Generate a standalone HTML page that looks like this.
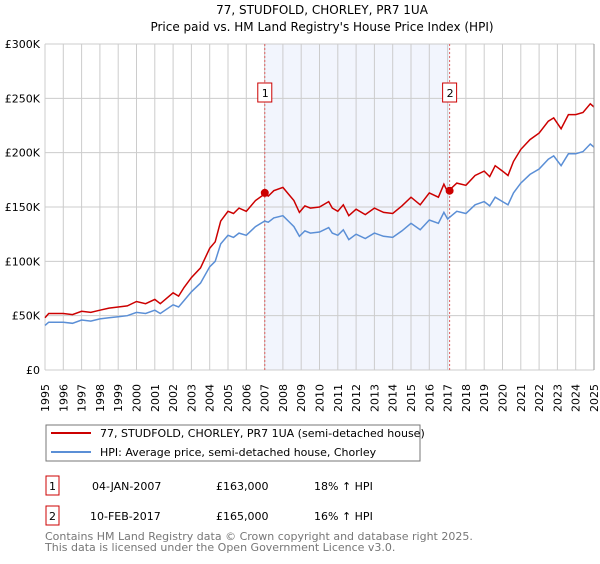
<!DOCTYPE html>
<html><head><meta charset="utf-8"><style>
body{margin:0;background:#fff;font-family:"DejaVu Sans","Liberation Sans",sans-serif;}
svg text{font-family:"DejaVu Sans","Liberation Sans",sans-serif;}
</style></head><body>
<svg id="chart" width="600" height="560" xmlns="http://www.w3.org/2000/svg">
<text x="322" y="14" text-anchor="middle" font-size="12">77, STUDFOLD, CHORLEY, PR7 1UA</text>
<text x="322" y="31" text-anchor="middle" font-size="12">Price paid vs. HM Land Registry's House Price Index (HPI)</text>
<g id="grid"></g><g id="series"></g><g id="axes"></g>
<g>
<rect x="46" y="425" width="374" height="36" fill="#fff" stroke="#777"/>
<line x1="51" y1="443" x2="91" y2="443" transform="translate(0,-10)" stroke="#cc0000" stroke-width="2"/>
<text x="100" y="437" font-size="11">77, STUDFOLD, CHORLEY, PR7 1UA (semi-detached house)</text>
<line x1="51" y1="452" x2="91" y2="452" stroke="#5b8fd6" stroke-width="2"/>
<text x="100" y="456" font-size="11">HPI: Average price, semi-detached house, Chorley</text>
</g>
<g font-size="11">
<rect x="46" y="476" width="13" height="19" fill="#fff" stroke="#cc0000"/>
<text x="52.5" y="490" text-anchor="middle">1</text>
<text x="92" y="490">04-JAN-2007</text>
<text x="216" y="490">£163,000</text>
<text x="314" y="490">18% ↑ HPI</text>
<rect x="46" y="506" width="13" height="19" fill="#fff" stroke="#cc0000"/>
<text x="52.5" y="520" text-anchor="middle">2</text>
<text x="90" y="520">10-FEB-2017</text>
<text x="216" y="520">£165,000</text>
<text x="314" y="520">16% ↑ HPI</text>
</g>
<text x="45" y="540" font-size="11" fill="#777">Contains HM Land Registry data © Crown copyright and database right 2025.</text>
<text x="45" y="551" font-size="11" fill="#777">This data is licensed under the Open Government Licence v3.0.</text>
</svg>
<script>
const hpiYears=[1995.0,1995.2,1996.0,1996.5,1997.0,1997.5,1998.0,1998.5,1999.0,1999.5,2000.0,2000.5,2001.0,2001.3,2002.0,2002.3,2002.6,2003.0,2003.5,2004.0,2004.3,2004.6,2005.0,2005.3,2005.6,2006.0,2006.5,2007.0,2007.2,2007.5,2008.0,2008.3,2008.6,2008.9,2009.2,2009.5,2010.0,2010.5,2010.7,2011.0,2011.3,2011.6,2012.0,2012.5,2013.0,2013.5,2014.0,2014.5,2015.0,2015.5,2016.0,2016.5,2016.8,2017.0,2017.5,2018.0,2018.5,2019.0,2019.3,2019.6,2020.0,2020.3,2020.6,2021.0,2021.5,2022.0,2022.5,2022.8,2023.2,2023.6,2024.0,2024.4,2024.8,2025.0];
const hpiValues=[41,44,44,43,46,45,47,48,49,50,53,52,55,52,60,58,64,72,80,95,100,116,124,122,126,124,132,137,136,140,142,137,132,123,128,126,127,131,126,124,129,120,125,121,126,123,122,128,135,129,138,135,145,139,146,144,152,155,151,159,155,152,163,172,180,185,194,197,188,199,199,201,208,205];
const propertyValues=[48,52,52,51,54,53,55,57,58,59,63,61,65,61,71,68,76,85,94,112,118,137,146,144,149,146,156,162,160,165,168,162,156,145,151,149,150,155,149,146,152,142,148,143,149,145,144,151,159,152,163,159,171,164,172,170,179,183,178,188,183,179,192,203,212,218,229,232,222,235,235,237,245,242];
const saleYears=[2007.01,2017.11];
const salePrices=[163,165];
const saleLabels=["1","2"];
const yTicks=[0,50,100,150,200,250,300];
const yTickLabels=["£0","£50K","£100K","£150K","£200K","£250K","£300K"];
const xTicks=[1995,1996,1997,1998,1999,2000,2001,2002,2003,2004,2005,2006,2007,2008,2009,2010,2011,2012,2013,2014,2015,2016,2017,2018,2019,2020,2021,2022,2023,2024,2025];

const L=45,R=594,T=44,B=370;
const X=y=>L+(y-1995)/30*(R-L);
const Y=v=>B-v/300*(B-T);
const NS="http://www.w3.org/2000/svg";
function mk(tag,attrs,parent){const e=document.createElementNS(NS,tag);for(const k in attrs)e.setAttribute(k,attrs[k]);parent.appendChild(e);return e;}
const grid=document.getElementById('grid'),series=document.getElementById('series'),axes=document.getElementById('axes');

const shade=mk('rect',{x:X(saleYears[0]),y:T,width:X(saleYears[1])-X(saleYears[0]),height:B-T,fill:'#f2f5fd'},grid);


xTicks.forEach(t=>{const l=mk('line',{x1:X(t),x2:X(t),y1:T,y2:B,stroke:'#cccccc','stroke-width':1},grid);


const tx=mk('text',{x:0,y:0,'font-size':11,'text-anchor':'end',transform:`translate(${X(t)+4},384) rotate(-90)`},axes);
tx.textContent=t;

});
yTicks.forEach((t,i)=>{const l=mk('line',{x1:L,x2:R,y1:Y(t),y2:Y(t),stroke:'#cccccc','stroke-width':1},grid);


const tx=mk('text',{x:40,y:Y(t)+4,'font-size':11,'text-anchor':'end'},axes);
tx.textContent=yTickLabels[i];

});

saleYears.forEach((s,i)=>{const l=mk('line',{x1:X(s),x2:X(s),y1:T,y2:B,stroke:'#e06060','stroke-width':1,'stroke-dasharray':'2,2'},series);


const r=mk('rect',{x:X(s)-7,y:83,width:14,height:19,fill:'#fff',stroke:'#cc0000'},series);


const t=mk('text',{x:X(s)-3,y:97,'font-size':11},series);t.textContent=saleLabels[i];

});

const hp=mk('path',{d:hpiYears.map((y,i)=>(i?'L':'M')+X(y).toFixed(1)+','+Y(hpiValues[i]).toFixed(1)).join(''),fill:'none',stroke:'#5b8fd6','stroke-width':1.5},series);


const pp=mk('path',{d:hpiYears.map((y,i)=>(i?'L':'M')+X(y).toFixed(1)+','+Y(propertyValues[i]).toFixed(1)).join(''),fill:'none',stroke:'#cc0000','stroke-width':1.5},series);


saleYears.forEach((s,i)=>{const c=mk('circle',{cx:X(s),cy:Y(salePrices[i]),r:4,fill:'#cc0000'},series);

});
const ax=mk('line',{x1:R,x2:R,y1:T,y2:B,stroke:'#999','stroke-width':1},axes);


</script>
</body></html>
